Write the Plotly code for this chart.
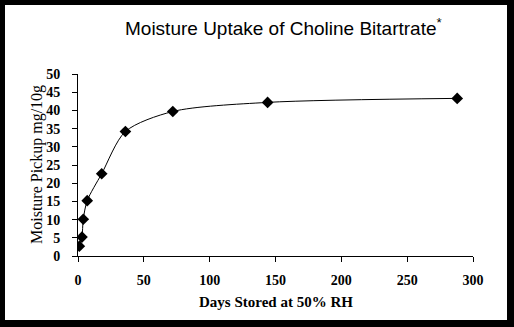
import plotly.graph_objects as go

days = [1, 3, 4, 7, 18, 36, 72, 144, 288]
pickup = [2.7, 5.2, 10.1, 15.2, 22.6, 34.2, 39.7, 42.2, 43.3]
x_ticks = [0, 50, 100, 150, 200, 250, 300]
y_ticks = [0, 5, 10, 15, 20, 25, 30, 35, 40, 45, 50]

W, H = 514, 327
L, R, T, B = 78, 41, 74, 71
pw, ph = W - L - R, H - T - B

def px(x):
    return (x - L) / pw

def py(y):
    return (H - B - y) / ph

SERIF = "Liberation Serif"

fig = go.Figure()
fig.add_trace(go.Scatter(
    x=days, y=pickup, mode="lines+markers",
    line=dict(color="black", width=1, shape="spline", smoothing=0.8),
    marker=dict(symbol="diamond", size=9, color="black"),
    showlegend=False,
))

fig.update_layout(
    width=W, height=H,
    margin=dict(l=L, r=R, t=T, b=B),
    font=dict(family=SERIF, size=14, color="black"),
    paper_bgcolor="black",
    plot_bgcolor="white",
    shapes=[dict(type="rect", xref="paper", yref="paper",
                 x0=px(5), x1=px(507), y0=py(320), y1=py(5),
                 fillcolor="white", line=dict(width=0), layer="below")],
    annotations=[
        dict(text="Moisture Uptake of Choline Bitartrate<sup>*</sup>", xref="paper", yref="paper",
             x=px(283), y=py(27), showarrow=False, xanchor="center", yanchor="middle",
             font=dict(family="Liberation Sans, Arial", size=19, color="black")),
        dict(text="Moisture Pickup mg/10g", xref="paper", yref="paper",
             x=px(37), y=py(165), textangle=-90, showarrow=False,
             xanchor="center", yanchor="middle",
             font=dict(family=SERIF, size=16, color="black")),
        dict(text="<b>Days Stored at 50% RH</b>", xref="paper", yref="paper",
             x=px(276), y=py(302), showarrow=False, xanchor="center", yanchor="middle",
             font=dict(family=SERIF, size=15, color="black")),
    ],
)

fig.update_xaxes(range=[0, 300], tickmode="array", tickvals=x_ticks,
                 ticktext=[f"<b>{v}</b>" for v in x_ticks],
                 showgrid=False, zeroline=False,
                 showline=True, linecolor="black", linewidth=1,
                 ticks="outside", ticklen=5, tickcolor="black",
                 tickfont=dict(family=SERIF, size=14, color="#000000", weight=700),
                 ticklabelstandoff=6, fixedrange=True)
fig.update_yaxes(range=[0, 50], tickmode="array", tickvals=y_ticks,
                 ticktext=[f"<b>{v}</b>" for v in y_ticks],
                 showgrid=False, zeroline=False,
                 showline=True, linecolor="black", linewidth=1,
                 ticks="outside", ticklen=5, tickcolor="black",
                 tickfont=dict(family=SERIF, size=14, color="#000000", weight=700),
                 ticklabelstandoff=9, fixedrange=True)

fig.write_html("out.html", config={"displayModeBar": False})
